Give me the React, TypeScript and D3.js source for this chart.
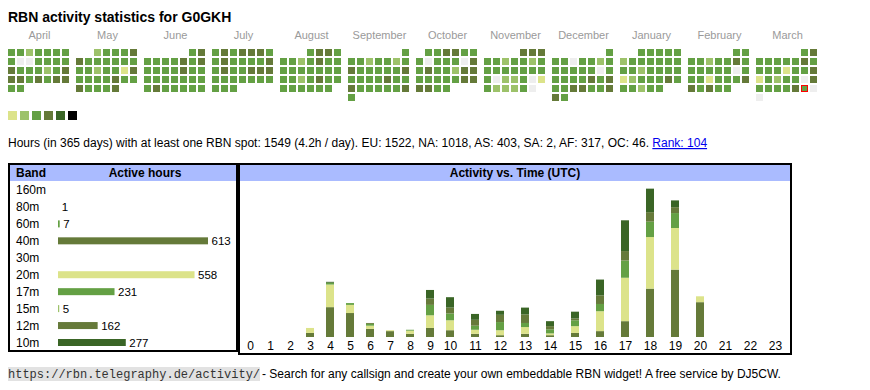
import React from "react";
import * as d3 from "d3";

const TITLE = "RBN activity statistics for G0GKH";
const MONTHS = ["April", "May", "June", "July", "August", "September", "October", "November", "December", "January", "February", "March"];
const MONTH_STARTS = ["2024-04-01", "2024-05-01", "2024-06-01", "2024-07-01", "2024-08-01", "2024-09-01", "2024-10-01", "2024-11-01", "2024-12-01", "2025-01-01", "2025-02-01", "2025-03-01"];
const TODAY = "2025-03-29";

const LV_APR = [3,3,2,3,3,3,3, 3,0,0,3,3,3,3, 4,3,3,3,2,3,4, 4,4,3,4,3,4,4, 3,3];
const LV_MAY = [2,3,3,3,4, 4,3,3,3,3,3,3, 3,3,2,3,3,1,4, 3,3,3,3,4,3,3, 4,3,3,3,4];
const LV_JUN = [3,4, 3,3,3,3,4,3,4, 3,3,3,3,4,3,3, 3,3,3,3,3,3,3, 3,4,3,3,3,3,3];
const LV_JUL = [3,4,3,4,4,4,3, 3,4,3,3,3,3,4, 3,4,3,3,4,4,4, 3,3,3,3,3,3,3, 3,3,3];
const LV_AUG = [3,4,4,3, 3,3,2,3,4,3,3, 3,3,3,3,3,3,3, 3,3,2,3,4,3,3, 3,3,3,3,3,3];
const LV_SEP = [3, 3,3,2,3,3,2,3, 4,3,3,3,3,3,4, 3,3,3,3,4,3,3, 4,3,3,3,3,3,4, 3];
const LV_OCT = [3,3,4,4,3,3, 3,0,3,3,3,0,4, 3,4,3,3,2,4,4, 3,3,3,3,3,4,4, 4,4,3,3];
const LV_NOV = [4,4,4, 3,3,2,3,3,2,3, 3,3,3,3,3,3,3, 3,0,2,2,3,0,1, 3,2,2,2,3,0];
const LV_DEC = [3, 3,3,0,3,3,2,3, 3,3,3,3,3,0,3, 3,3,3,3,4,3,4, 3,3,4,4,3,3,4, 4,3];
const LV_JAN = [3,3,3,3,3, 2,3,3,3,3,3,3, 3,3,2,3,3,3,3, 1,2,3,3,3,4,3, 3,3,2,3,3];
const LV_FEB = [3,3, 3,3,2,3,3,4,3, 3,3,3,3,3,0,3, 3,3,1,3,3,3,4, 4,3,4,3,3];
const LV_MAR = [3,4, 3,3,3,3,3,4,3, 3,3,3,1,3,3,4, 1,3,2,3,3,0,4, 3,3,3,3,4,3,0, 0];
const LEVELS = [LV_APR, LV_MAY, LV_JUN, LV_JUL, LV_AUG, LV_SEP, LV_OCT, LV_NOV, LV_DEC, LV_JAN, LV_FEB, LV_MAR];
const LEVEL_COLORS = ["#eeeeee", "#dce38a", "#9dc26a", "#64a044", "#657a39", "#3a6526", "#000000"];

const BANDS = ["160m", "80m", "60m", "40m", "30m", "20m", "17m", "15m", "12m", "10m"];
const BAND_HOURS = [0, 1, 7, 613, 0, 558, 231, 5, 162, 277];
const BAND_COLORS = ["#3a6526", "#9dc26a", "#64a044", "#657a39", "#9dc26a", "#dce38a", "#64a044", "#9dc26a", "#667a3a", "#3a6526"];

const HOURS = d3.range(24);
const H_40M = [0,0,0,9,66,53,18,13,7,20,15,7,4,7,4,9,13,35,107,149,77,0,0,0];
const H_20M = [0,0,0,11,50,18,7,2,7,28,22,9,11,15,4,15,44,96,114,92,13,0,0,0];
const H_17M = [0,0,0,0,4,4,4,0,2,23,15,9,18,9,9,13,16,38,34,33,0,0,0,0];
const H_12M = [0,0,0,0,0,0,2,0,0,14,13,13,16,19,7,4,19,21,21,13,0,0,0,0];
const H_10M = [0,0,0,0,2,0,0,0,0,19,23,13,9,15,11,15,35,68,52,15,0,0,0,0];
const STACK_KEYS = ["40m", "20m", "17m", "12m", "10m"];
const STACK_COLORS = ["#657a39", "#dce38a", "#64a044", "#667a3a", "#3a6526"];

const INFO = "Hours (in 365 days) with at least one RBN spot: 1549 (4.2h / day). EU: 1522, NA: 1018, AS: 403, SA: 2, AF: 317, OC: 46. ";
const RANK = "Rank: 104";
const URL_TEXT = "https://rbn.telegraphy.de/activity/";
const FOOTER = " - Search for any callsign and create your own embeddable RBN widget! A free service by DJ5CW.";

const SANS = "'Liberation Sans', Arial, sans-serif";

export default function App() {
  const parse = d3.timeParse("%Y-%m-%d");
  const fmt = d3.timeFormat("%Y-%m-%d");
  const monthX = d3.scaleLinear().domain([0, 11]).range([8, 756]);
  const colX = d3.scaleBand<number>().domain(d3.range(7)).range([0, 61]).paddingInner(2 / 9).paddingOuter(0);
  const rowY = d3.scaleLinear().domain([0, 1]).range([49, 58]);
  const cell = Math.round(colX.bandwidth());

  const cells: any[] = [];
  MONTH_STARTS.forEach((ms, m) => {
    const start = parse(ms) as Date;
    const end = d3.timeMonth.offset(start, 1);
    const days = d3.timeDay.range(start, end);
    const offset = (start.getDay() + 6) % 7;
    days.forEach((d, i) => {
      const idx = offset + i;
      cells.push({
        key: fmt(d),
        x: Math.round(monthX(m) + (colX(idx % 7) as number)),
        y: Math.round(rowY(Math.floor(idx / 7))),
        level: LEVELS[m][i],
        today: fmt(d) === TODAY,
      });
    });
  });

  // band table
  const bandY = d3.scalePoint<string>().domain(BANDS).range([189.5, 342]);
  const bandW = d3.scaleLinear().domain([0, 613]).range([0, 150]);

  // activity chart
  const hx = d3.scaleLinear().domain([0, 10, 23]).range([250, 450, 775]);
  const hy = d3.scaleLinear().domain([0, 325]).range([337, 190]);
  const rows = HOURS.map((h) => ({ hour: h, "40m": H_40M[h], "20m": H_20M[h], "17m": H_17M[h], "12m": H_12M[h], "10m": H_10M[h] }));
  const series = d3.stack<any>().keys(STACK_KEYS)(rows);
  const barW = 8;

  return (
    <div style={{ position: "absolute", left: 0, top: 0 }}>
      <svg width={870} height={390} style={{ display: "block", fontFamily: SANS }}>
        <rect width={870} height={390} fill="#ffffff" />
        <text x={8} y={22} fontSize={14} fontWeight="bold" fill="#000">{TITLE}</text>
        {MONTHS.map((m, i) => (
          <text key={m} x={monthX(i) + 31.5} y={39} fontSize={11} fill="#9a9a9a" textAnchor="middle">{m}</text>
        ))}
        {cells.map((c) => (
          c.today ? (
            <g key={c.key}>
              <rect x={c.x} y={c.y} width={cell} height={cell} fill="#ff0000" shapeRendering="crispEdges" />
              <rect x={c.x + 1} y={c.y + 1} width={cell - 2} height={cell - 2} fill={LEVEL_COLORS[c.level]} shapeRendering="crispEdges" />
            </g>
          ) : (
            <rect key={c.key} x={c.x} y={c.y} width={cell} height={cell} fill={LEVEL_COLORS[c.level]} shapeRendering="crispEdges" />
          )
        ))}
        {LEVEL_COLORS.slice(1).map((col, i) => (
          <rect key={col} x={8 + i * 12} y={111} width={9} height={9} fill={col} />
        ))}
        <text x={8} y={147} fontSize={12} fill="#000">
          {INFO}
          <tspan fill="#0000ee" textDecoration="underline" style={{ textDecoration: "underline" }}>{RANK}</tspan>
        </text>

        {/* band table */}
        <rect x={9} y={164} width={228} height={187} fill="#fff" stroke="#000" strokeWidth={2} />
        <rect x={10} y={165} width={226} height={16} fill="#aabbff" />
        <text x={16} y={177} fontSize={12} fontWeight="bold">Band</text>
        <text x={145} y={177} fontSize={12} fontWeight="bold" textAnchor="middle">Active hours</text>
        {BANDS.map((b, i) => {
          const cy = bandY(b) as number;
          const v = BAND_HOURS[i];
          return (
            <g key={b}>
              <text x={16} y={cy + 4.5} fontSize={12}>{b}</text>
              {v > 1 && <rect x={58} y={cy - 3} width={Math.max(bandW(v), 0.6)} height={7} fill={BAND_COLORS[i]} />}
              {v > 0 && <text x={58 + bandW(v) + 3.5} y={cy + 4.5} fontSize={11.5}>{v}</text>}
            </g>
          );
        })}

        {/* activity chart */}
        <rect x={239} y={164} width={552} height={190} fill="#fff" stroke="#000" strokeWidth={2} />
        <rect x={240} y={165} width={550} height={16} fill="#aabbff" />
        <text x={515} y={177} fontSize={12} fontWeight="bold" textAnchor="middle">Activity vs. Time (UTC)</text>
        {series.map((s, si) => (
          <g key={s.key} fill={STACK_COLORS[si]}>
            {s.map((d: any) => (
              d[1] - d[0] > 0 ? (
                <rect key={d.data.hour} x={hx(d.data.hour) - barW / 2} y={hy(d[1])} width={barW} height={hy(d[0]) - hy(d[1])} />
              ) : null
            ))}
          </g>
        ))}
        {HOURS.map((h) => (
          <text key={h} x={hx(h) + 0.5} y={350} fontSize={12} textAnchor="middle">{h}</text>
        ))}

        {/* footer */}
        <rect x={8} y={367} width={252} height={14} fill="#e2e2e2" />
        <text x={8} y={378} fontSize={12} fill="#333" fontFamily="'Liberation Mono', monospace">{URL_TEXT}</text>
        <text x={262} y={378} fontSize={12} fill="#000">{FOOTER}</text>
      </svg>
    </div>
  );
}
